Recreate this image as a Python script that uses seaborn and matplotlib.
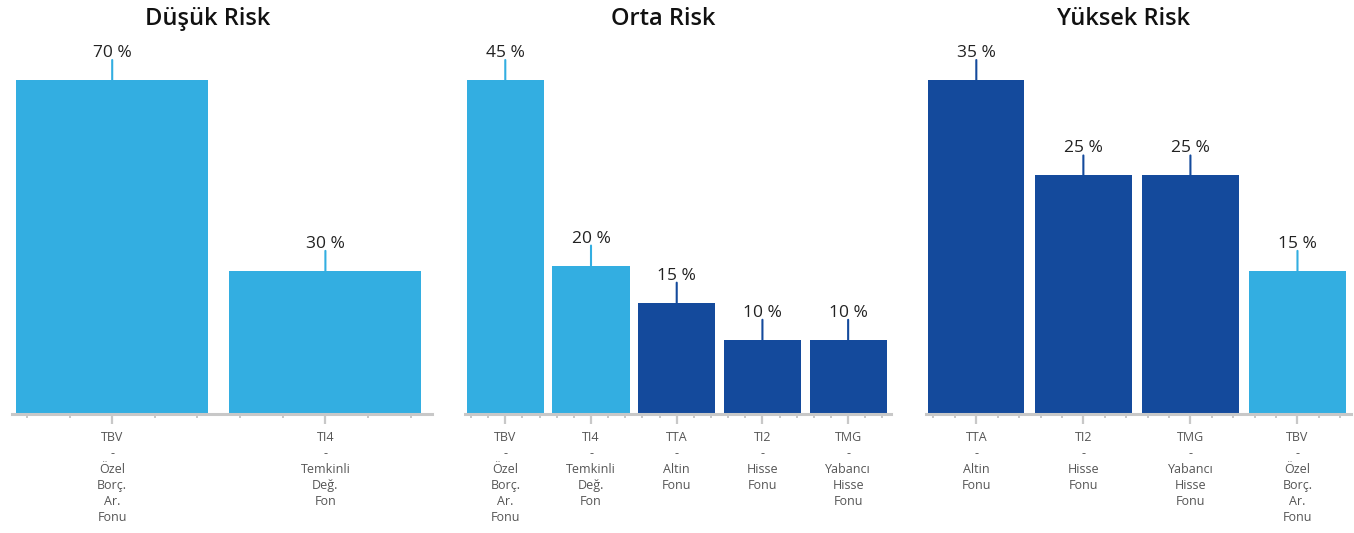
import numpy as np
import pandas as pd
import seaborn as sns
import matplotlib.pyplot as plt

# risk groups and their fund weights (%)
titles = ["Düşük Risk", "Orta Risk", "Yüksek Risk"]
low_funds = ["TBV\n-\nÖzel\nBorç.\nAr.\nFonu", "TI4\n-\nTemkinli\nDeğ.\nFon"]
low_vals = [70, 30]
mid_funds = ["TBV\n-\nÖzel\nBorç.\nAr.\nFonu", "TI4\n-\nTemkinli\nDeğ.\nFon",
             "TTA\n-\nAltin\nFonu", "TI2\n-\nHisse\nFonu", "TMG\n-\nYabancı\nHisse\nFonu"]
mid_vals = [45, 20, 15, 10, 10]
high_funds = ["TTA\n-\nAltin\nFonu", "TI2\n-\nHisse\nFonu",
              "TMG\n-\nYabancı\nHisse\nFonu", "TBV\n-\nÖzel\nBorç.\nAr.\nFonu"]
high_vals = [35, 25, 25, 15]

LIGHT = "#33aee1"
DARK = "#144a9c"
fund_colors = {"TBV": LIGHT, "TI4": LIGHT, "TTA": DARK, "TI2": DARK, "TMG": DARK}

sns.set_style("white")
plt.rcParams['font.family'] = ['Open Sans', 'DejaVu Sans']

fig = plt.figure(figsize=(13.54, 5.33), dpi=100)
W, H = 1354, 533
# axes boxes in pixels: left, right
boxes = [(12, 432), (465, 891), (926, 1351)]
bottom_px, top_px = 414, 80

groups = [(low_funds, low_vals), (mid_funds, mid_vals), (high_funds, high_vals)]

for (funds, vals), title, (l, r) in zip(groups, titles, boxes):
    ax = fig.add_axes([l / W, 1 - bottom_px / H, (r - l) / W, (bottom_px - top_px) / H])
    df = pd.DataFrame({"fund": funds, "value": vals})
    pal = {f: fund_colors[f.split("\n")[0]] for f in funds}
    sns.barplot(data=df, x="fund", y="value", hue="fund", palette=pal,
                width=0.9, legend=False, ax=ax, saturation=1, linewidth=0)
    n = len(funds)
    ax.set_xlim(-0.47, n - 0.5)
    ax.set_ylim(0, max(vals))
    ax.set_xlabel("")
    ax.set_ylabel("")
    ax.set_yticks([])
    for s in ["top", "right", "left"]:
        ax.spines[s].set_visible(False)
    ax.spines["bottom"].set_color("#c8c8c8")
    ax.spines["bottom"].set_linewidth(2.2)

    # minor ticks every 0.2 between categories
    minor = [x for x in np.arange(-0.4, n - 0.5, 0.2) if abs(x - round(x)) > 0.05]
    ax.set_xticks(minor, minor=True)
    ax.set_xticks(range(n))
    ax.set_xticklabels(funds, linespacing=1.3)
    ax.tick_params(axis="x", which="major", bottom=True, length=7, width=1.6,
                   color="#c8c8c8", labelsize=9, labelcolor="#555555", pad=5)
    ax.tick_params(axis="x", which="minor", bottom=True, length=3, width=1.4,
                   color="#c8c8c8")

    for i, (f, v) in enumerate(zip(funds, vals)):
        c = pal[f]
        ax.annotate("", xy=(i, v), xytext=(0, 20), textcoords="offset pixels",
                    arrowprops=dict(arrowstyle="-", color=c, lw=1.5,
                                    shrinkA=0, shrinkB=0), annotation_clip=False)
        ax.annotate(f"{v} %", xy=(i, v), xytext=(0, 23), textcoords="offset pixels",
                    ha="center", va="baseline", fontsize=12.5, color="#222222",
                    annotation_clip=False)

    ax.annotate(title, xy=(0.465, 1), xycoords="axes fraction", xytext=(0, 61),
                textcoords="offset pixels", ha="center", va="center",
                fontsize=17, fontweight="semibold", color="#111111")

fig.savefig("out.png", dpi=100)
